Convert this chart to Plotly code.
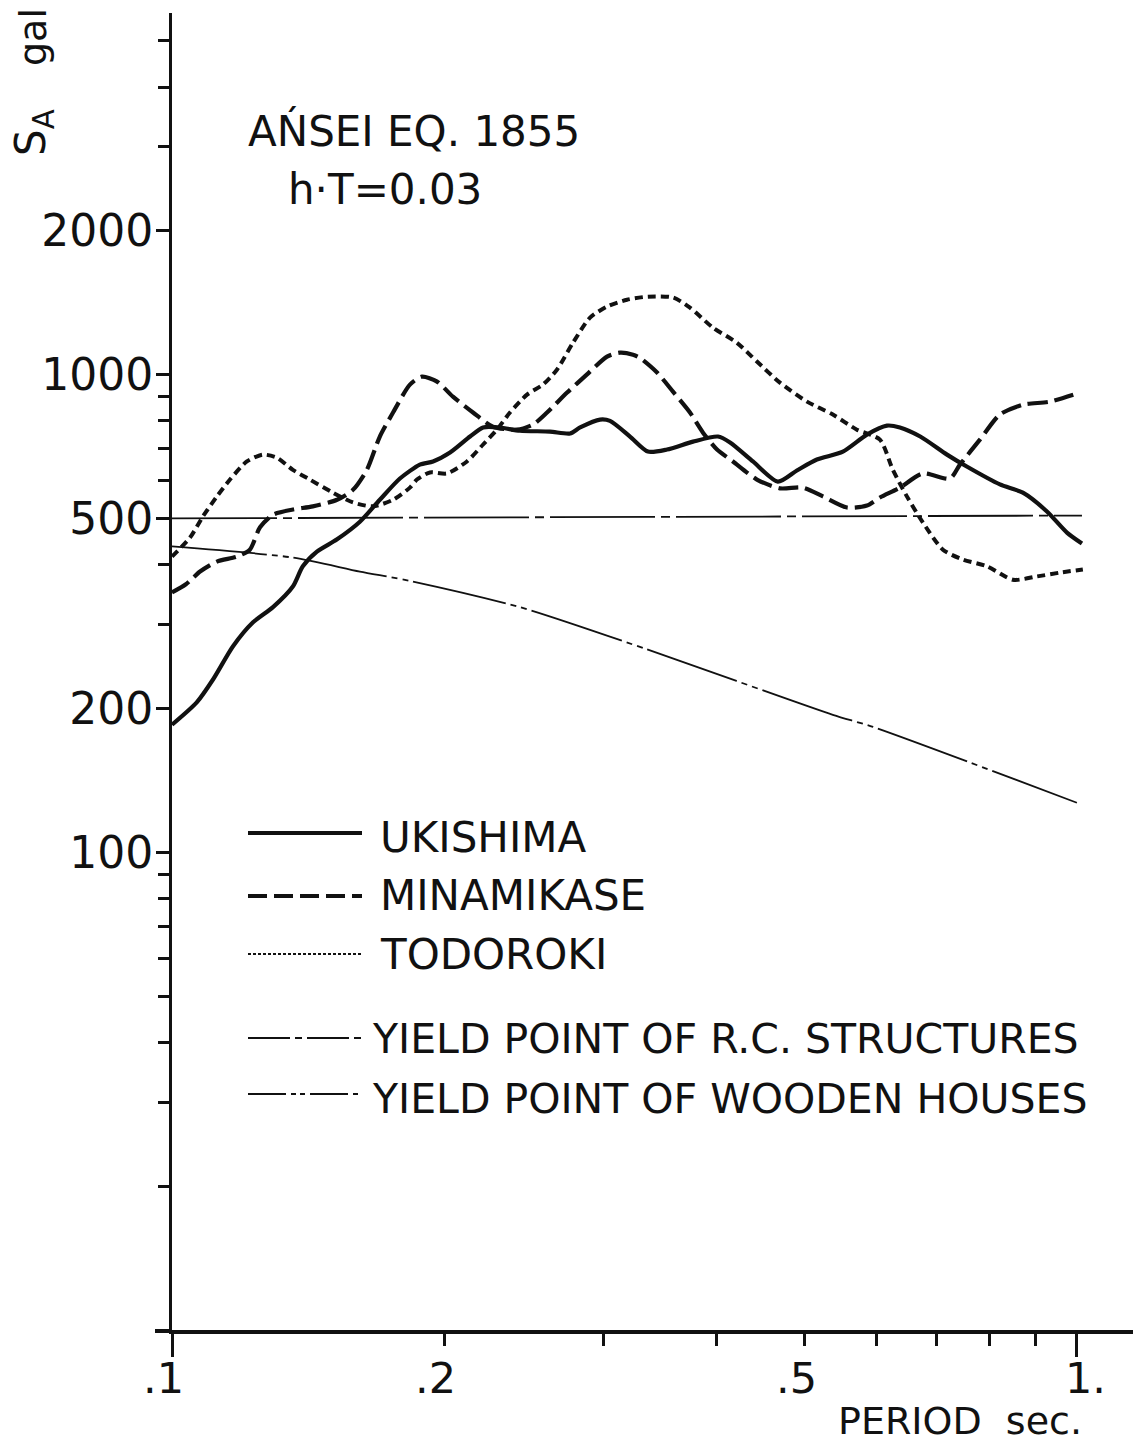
import math
import plotly.graph_objects as go

# Acceleration response spectra, Ansei earthquake 1855 (h·T = 0.03)
# Period in seconds, spectral acceleration SA in gal.
ukishima_period = [0.100, 0.1065, 0.111, 0.1168, 0.1229, 0.1293, 0.136, 0.1395, 0.1446, 0.1522,
                   0.1613, 0.1697, 0.1786, 0.1879, 0.1943, 0.2029, 0.2135, 0.2207, 0.2303, 0.2424,
                   0.2616, 0.2754, 0.2825, 0.2972, 0.3048, 0.3207, 0.3357, 0.3524, 0.3765, 0.4012,
                   0.4137, 0.4385, 0.4672, 0.4904, 0.516, 0.5513, 0.5861, 0.6167, 0.6374, 0.6712,
                   0.7185, 0.7556, 0.8221, 0.8716, 0.9266, 0.975, 1.013]
ukishima_sa = [185, 206, 230, 270, 303, 326, 360, 397, 426, 452,
               492, 547, 606, 648, 658, 687, 742, 775, 775, 763,
               760, 753, 775, 805, 800, 742, 690, 697, 724, 742,
               721, 658, 597, 630, 664, 690, 749, 782, 775, 742,
               680, 642, 589, 566, 517, 467, 443]

minamikase_period = [0.100, 0.1036, 0.1074, 0.1121, 0.118, 0.1219, 0.1251, 0.1293, 0.136, 0.1431,
                     0.1522, 0.1585, 0.1642, 0.1697, 0.1755, 0.1832, 0.1889, 0.1963, 0.2044, 0.2151,
                     0.2263, 0.2405, 0.2506, 0.2597, 0.2733, 0.2873, 0.3025, 0.3126, 0.3232, 0.3287,
                     0.3436, 0.3578, 0.3736, 0.3862, 0.4002, 0.4168, 0.443, 0.4697, 0.4981, 0.524,
                     0.5571, 0.5861, 0.6058, 0.6374, 0.6759, 0.724, 0.7426, 0.7813, 0.8221, 0.8716,
                     0.9337, 1.0076]
minamikase_sa = [350, 364, 387, 406, 416, 430, 479, 509, 522, 530,
                 547, 574, 632, 742, 833, 953, 990, 967, 899, 833,
                 778, 767, 786, 833, 917, 1000, 1091, 1112, 1101, 1085,
                 1010, 921, 833, 756, 697, 658, 603, 578, 580, 556,
                 527, 532, 553, 580, 621, 606, 648, 731, 825, 865,
                 878, 917]

todoroki_period = [0.100, 0.1047, 0.1082, 0.1121, 0.1159, 0.121, 0.126, 0.1306, 0.136, 0.142,
                   0.1506, 0.1585, 0.1668, 0.1755, 0.1832, 0.1865, 0.1928, 0.2013, 0.2118, 0.2207,
                   0.2286, 0.2363, 0.2468, 0.257, 0.2663, 0.2774, 0.2897, 0.3025, 0.3183, 0.3357,
                   0.3578, 0.3736, 0.3961, 0.421, 0.443, 0.4697, 0.5032, 0.5374, 0.5713, 0.6058,
                   0.626, 0.6488, 0.6759, 0.7111, 0.7482, 0.7955, 0.8498, 0.9033, 0.9577, 1.0153]
todoroki_sa = [416, 456, 505, 556, 603, 658, 680, 670, 632, 603,
               566, 540, 530, 547, 580, 603, 624, 621, 658, 714,
               767, 833, 908, 953, 1024, 1166, 1316, 1388, 1435, 1456,
               1450, 1381, 1254, 1166, 1065, 962, 878, 825, 767, 731,
               632, 556, 490, 430, 410, 397, 372, 378, 385, 391]

rc_yield_period = [0.100, 1.013]
rc_yield_sa = [500, 507]

wood_yield_period = [0.100, 0.136, 0.1613, 0.1832, 0.2424, 0.3349, 0.5374, 0.5952, 1.0]
wood_yield_sa = [437, 414, 387, 370, 326, 266, 194, 183, 127]

x_major_ticks = [0.1, 1.0]
x_minor_ticks = [0.2, 0.3, 0.4, 0.5, 0.6, 0.7, 0.8, 0.9]
x_tick_labels = [(0.1, ".1", "right"), (0.2, ".2", "right"), (0.5, ".5", "right"), (1.0, "1.", "left")]

y_major_ticks = [100, 200, 500, 1000, 2000]
y_major_text = ["100", "200", "500", "1000", "2000"]
y_minor_ticks = [20, 30, 40, 50, 60, 70, 80, 90, 300, 400, 600, 700, 800, 900, 3000, 4000, 5000]

# name, dash, line width, sample y, text y, text x, text size
legend_rows = [
    ("UKISHIMA", "solid", 4, 833, 837, 378, 42),
    ("MINAMIKASE", "19px,7px", 4, 896, 895, 378, 42),
    ("TODOROKI", "3px,2px", 2, 954, 955, 378, 42),
    ("YIELD POINT OF R.C. STRUCTURES", "42px,5px,7px,5px", 2, 1038, 1039, 370, 41),
    ("YIELD POINT OF WOODEN HOUSES", "38px,5px,5px,4px,5px,5px", 2, 1094, 1099, 370, 41),
]

INK = "#111111"
FONT = "DejaVu Sans"

W, H = 1139, 1444
L, R, T, B = 172, 6, 13, 114
PW, PH = W - L - R, H - T - B


def paper_x(px):
    return (px - L) / PW


def paper_y(py):
    return (H - B - py) / PH


fig = go.Figure()

series = [
    (ukishima_period, ukishima_sa, "solid", 4.2),
    (minamikase_period, minamikase_sa, "20px,7px", 4.2),
    (todoroki_period, todoroki_sa, "8px,5px", 4.0),
    (rc_yield_period, rc_yield_sa, "105px,6px,9px,6px", 1.8),
    (wood_yield_period, wood_yield_sa, "95px,5px,6px,5px,6px,5px", 1.8),
]
for xs, ys, dash, width in series:
    fig.add_trace(go.Scatter(
        x=xs, y=ys, mode="lines",
        line=dict(color=INK, width=width, dash=dash, shape="spline", smoothing=0.7),
        hoverinfo="skip", showlegend=False,
    ))

shapes = []
annotations = []

# the period axis runs a little past the SA axis on the left
shapes.append(dict(type="line", xref="paper", yref="paper",
                   x0=paper_x(155), x1=0, y0=paper_y(1331), y1=paper_y(1331),
                   line=dict(color=INK, width=4)))

# hand-drawn style key
for name, dash, width, line_y, text_y, text_x, size in legend_rows:
    shapes.append(dict(type="line", xref="paper", yref="paper",
                       x0=paper_x(248), x1=paper_x(362), y0=paper_y(line_y), y1=paper_y(line_y),
                       line=dict(color=INK, width=width, dash=dash)))
    annotations.append(dict(text=name, xref="paper", yref="paper",
                            x=paper_x(text_x), y=paper_y(text_y), xanchor="left", yanchor="middle",
                            showarrow=False, font=dict(size=size, family=FONT, color=INK)))

# title block
annotations.append(dict(text="AŃSEI EQ. 1855", xref="paper", yref="paper",
                        x=paper_x(246), y=paper_y(131), xanchor="left", yanchor="middle",
                        showarrow=False, font=dict(size=42, family=FONT, color=INK)))
annotations.append(dict(text="h·T=0.03", xref="paper", yref="paper",
                        x=paper_x(286), y=paper_y(189), xanchor="left", yanchor="middle",
                        showarrow=False, font=dict(size=42, family=FONT, color=INK)))

# axis titles
annotations.append(dict(text="gal", xref="paper", yref="paper", textangle=-90,
                        x=paper_x(33), y=paper_y(37), xanchor="center", yanchor="middle",
                        showarrow=False, font=dict(size=38, family=FONT, color=INK)))
annotations.append(dict(text="S<sub>A</sub>", xref="paper", yref="paper", textangle=-90,
                        x=paper_x(33), y=paper_y(133), xanchor="center", yanchor="middle",
                        showarrow=False, font=dict(size=42, family=FONT, color=INK)))
annotations.append(dict(text="PERIOD  sec.", xref="paper", yref="paper",
                        x=paper_x(836), y=paper_y(1421), xanchor="left", yanchor="middle",
                        showarrow=False, font=dict(size=38, family=FONT, color=INK)))

# x tick labels: the digit sits on the tick, the point hangs outside
for val, txt, anchor in x_tick_labels:
    annotations.append(dict(text=txt, xref="x", yref="paper",
                            x=math.log10(val), y=paper_y(1378),
                            xanchor=anchor, yanchor="middle",
                            xshift=14 if anchor == "right" else -14,
                            showarrow=False, font=dict(size=43, family=FONT, color=INK)))

fig.update_layout(
    width=W, height=H,
    margin=dict(l=L, r=R, t=T, b=B, pad=0),
    paper_bgcolor="white", plot_bgcolor="white",
    showlegend=False,
    font=dict(family=FONT, color=INK),
    shapes=shapes,
    annotations=annotations,
    xaxis=dict(
        type="log", range=[-1, 0.062],
        showline=True, linecolor=INK, linewidth=4,
        showgrid=False, zeroline=False,
        ticks="outside", tickvals=x_major_ticks, ticklen=23, tickwidth=3, tickcolor=INK,
        showticklabels=False,
        minor=dict(tickvals=x_minor_ticks, ticks="outside", ticklen=12, tickwidth=3,
                   tickcolor=INK, showgrid=False),
    ),
    yaxis=dict(
        type="log", range=[1, 3.757],
        showline=True, linecolor=INK, linewidth=3,
        showgrid=False, zeroline=False,
        ticks="outside", tickvals=y_major_ticks, ticktext=y_major_text,
        ticklen=13, tickwidth=3, tickcolor=INK,
        ticklabelstandoff=-6,
        tickfont=dict(size=44, family=FONT, color=INK),
        minor=dict(tickvals=y_minor_ticks, ticks="outside", ticklen=11, tickwidth=3,
                   tickcolor=INK, showgrid=False),
    ),
)

fig.write_html("out.html")
